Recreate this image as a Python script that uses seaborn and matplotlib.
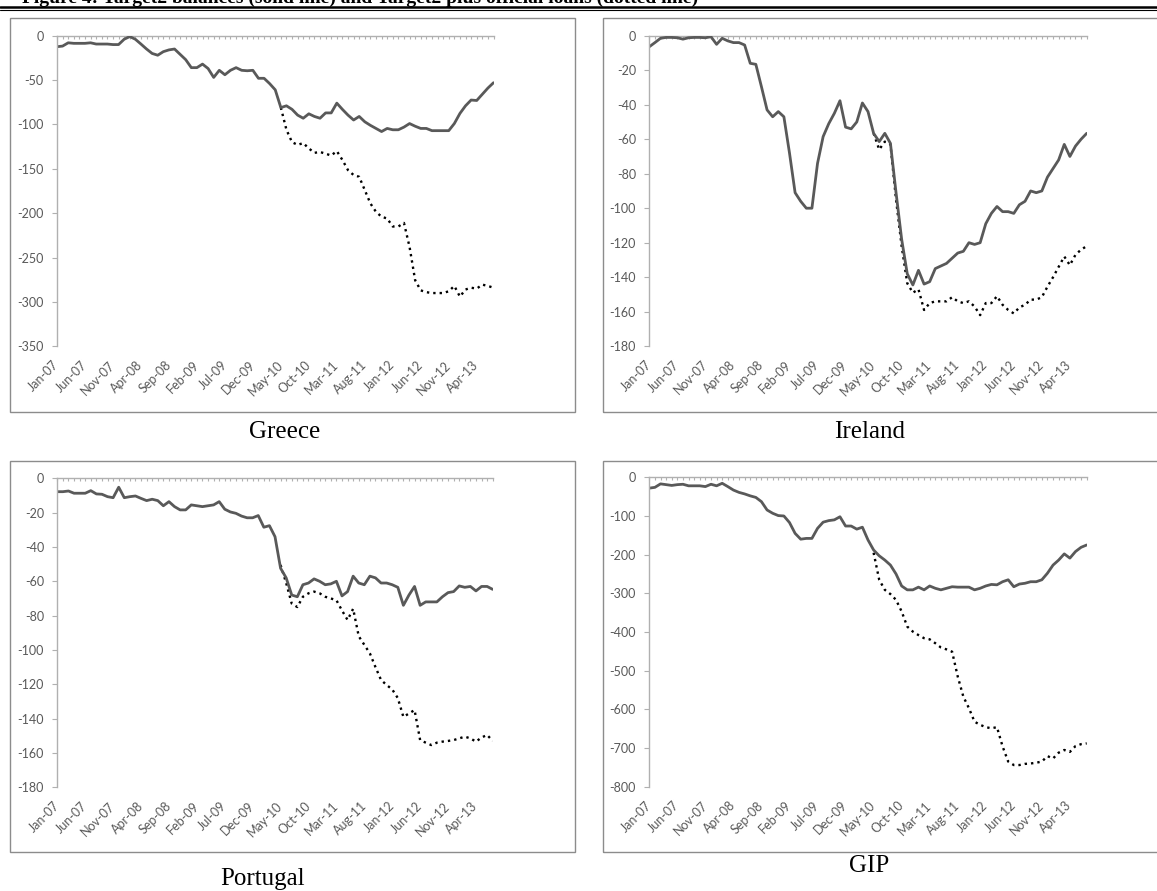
import numpy as np
import pandas as pd
import seaborn as sns
import matplotlib
matplotlib.use("Agg")
from matplotlib import pyplot as plt
from matplotlib.patches import Rectangle
from matplotlib.lines import Line2D

# Monthly data, Jan-07 .. Jul-13 (79 months); dotted series start in May-10
n_months = 79
dotted_start = 40
tick_labels = ["Jan-07", "Jun-07", "Nov-07", "Apr-08", "Sep-08", "Feb-09", "Jul-09", "Dec-09",
               "May-10", "Oct-10", "Mar-11", "Aug-11", "Jan-12", "Jun-12", "Nov-12", "Apr-13"]

greece_solid = [-12.4, -11.7, -8, -8.6, -8.6, -8.6, -8, -9.4, -9.4, -9.4, -10, -10,
                -4, -1, -4, -9.4, -15, -20, -22, -18, -16, -15, -21, -27,
                -36, -36, -32, -37, -47, -39, -44, -39, -36, -39, -39.5, -39,
                -48, -48, -54, -61, -81, -79, -83, -89.5, -93, -88, -91, -93,
                -87, -87, -76, -83, -89.5, -95, -91, -97, -101, -104.5, -108, -104.5,
                -106, -106, -103, -99, -102, -104.5, -104.5, -107, -107, -107, -107, -99,
                -87.6, -79, -72.5, -73, -66, -59, -53]
greece_dotted = [-81, -106, -120, -123, -121, -127, -132, -131, -133, -135, -130, -140,
                 -151.5, -157, -159, -174, -189, -198.5, -204, -206, -215, -215, -211, -238,
                 -275.6, -287, -289, -290, -290, -290, -288, -282, -294, -286, -284, -285,
                 -280.5, -282, -284]

ireland_solid = [-6.4, -4, -1.5, -1, -1, -1.2, -2, -1.2, -1, -1, -1.2, -0.6,
                 -5, -1.5, -3, -4, -4, -5.4, -16, -16.6, -29.6, -43, -47, -44,
                 -47, -68, -91, -96, -100, -100, -74, -58.5, -51, -45, -37.7, -53,
                 -54, -50, -39, -44, -56.6, -61.4, -56.6, -62.4, -91, -118, -138, -144.5,
                 -136, -144, -142.6, -135, -133.5, -132, -129, -126, -125, -120, -121, -120,
                 -109, -103, -99, -102, -102, -103, -98, -96, -90, -91, -90, -82,
                 -77, -72, -63, -70, -64, -60, -56.6]
ireland_dotted = [-56.6, -66, -61.4, -63, -95, -122, -143.5, -149, -147, -159, -155, -154,
                  -154, -154, -151.6, -154, -155, -154, -157, -162, -155, -155, -151, -156,
                  -159, -161, -157.5, -156, -153, -153, -151.6, -145.5, -140, -134, -128, -133,
                  -127, -124, -122]

portugal_solid = [-7.8, -7.8, -7.4, -8.7, -8.7, -8.7, -7.2, -9.1, -9.3, -10.7, -11.3, -5.2,
                  -11.3, -10.7, -10.3, -11.7, -13, -12.2, -13, -16, -13.6, -16.5, -18.4, -18.4,
                  -15.5, -16, -16.5, -16, -15.5, -13.6, -18, -19.6, -20.4, -22, -23, -23,
                  -21.7, -28.5, -27.6, -34, -52.4, -58, -68, -69, -62, -61, -58.6, -60,
                  -62, -61.5, -60, -68.5, -66, -57, -61, -62, -57, -58, -61, -61,
                  -62, -63.5, -74, -68, -63, -74, -72, -72, -72, -69, -66.6, -66,
                  -62.7, -63.5, -63, -65.6, -63, -63, -64.7]
portugal_dotted = [-50.5, -61, -73, -75, -69, -67, -66, -67, -69, -70, -71, -77,
                   -82.5, -76, -92, -97, -102, -110, -117.5, -120.4, -123, -128, -139, -137,
                   -135, -152.5, -154, -155.4, -154, -153.4, -153, -152.5, -151.5, -150.5, -151.5, -153.4,
                   -151, -149.5, -153]

gip_solid = [-28, -26, -17, -19, -21, -19, -18, -22, -22, -22, -24, -18,
             -22, -15.5, -24, -33, -39, -43, -48, -52, -63, -84.5, -93, -99,
             -100, -117, -145, -160, -158, -158, -132, -116, -112, -110, -102, -126,
             -126, -134, -129, -162, -188, -203, -214, -227, -250, -281, -291, -291,
             -284, -291, -281, -287, -291, -287, -283, -284, -284, -284, -291, -287,
             -281, -277, -278, -270, -265, -283, -276, -274, -270, -270, -265, -248,
             -227, -214, -198, -209, -192, -181, -175]
gip_dotted = [-195, -265, -291, -302, -317, -347, -386, -399, -408, -416, -419, -429,
              -440, -445, -451, -515, -567, -597, -632, -640, -646, -649, -646, -696,
              -735, -744, -744, -741, -740, -738, -735, -721, -727, -712, -705, -710,
              -695, -690, -688]

greece_yticks = list(range(0, -351, -50))
ireland_yticks = list(range(0, -181, -20))
portugal_yticks = list(range(0, -181, -20))
gip_yticks = list(range(0, -801, -100))

title = "Figure 4: Target2 balances (solid line) and Target2 plus official loans (dotted line)"

SOLID = "#595959"
AXIS = "#b0b0b0"
TEXT = "#595959"
FRAME = "#8c8c8c"

sns.set_theme(style="white")
plt.rcParams["font.family"] = ["Lato", "DejaVu Sans"]
plt.rcParams["axes.unicode_minus"] = False

W, H = 1157, 891
fig = plt.figure(figsize=(W / 100, H / 100), dpi=100)


def draw_panel(area, box, solid, dotted, yticks, label, label_xy):
    # Outer chart frame
    bl, bt, br, bb = box
    fig.add_artist(Rectangle((bl / W, 1 - bb / H), (br - bl) / W, (bb - bt) / H,
                             transform=fig.transFigure, fill=False, ec=FRAME, lw=1.0))

    l, t, r, b = area
    ax = fig.add_axes([l / W, 1 - b / H, (r - l) / W, (b - t) / H])

    df_solid = pd.DataFrame({"month": np.arange(len(solid)), "value": solid})
    df_dot = pd.DataFrame({"month": np.arange(dotted_start, dotted_start + len(dotted)),
                           "value": dotted})
    sns.lineplot(data=df_dot, x="month", y="value", ax=ax, color="black",
                 linewidth=1.7, linestyle=(0, (1, 1.7)), legend=False)
    sns.lineplot(data=df_solid, x="month", y="value", ax=ax, color=SOLID,
                 linewidth=2.0, legend=False)

    ax.set_xlim(0, n_months - 1)
    ax.set_ylim(yticks[-1], 0)
    ax.set_xlabel("")
    ax.set_ylabel("")
    ax.patch.set_alpha(0)

    for sp in ["right", "bottom"]:
        ax.spines[sp].set_visible(False)
    for sp in ["top", "left"]:
        ax.spines[sp].set_color(AXIS)
        ax.spines[sp].set_linewidth(1.0)
    ax.spines["top"].set_zorder(0)

    ax.set_xticks(range(0, n_months, 5))
    ax.set_xticklabels(tick_labels, rotation=45, ha="right", va="center",
                       rotation_mode="anchor")
    ax.set_xticks(range(n_months), minor=True)
    ax.tick_params(axis="x", which="both", bottom=False, top=True, labelbottom=True,
                   labeltop=False, direction="in", length=2.5, width=0.8, color=AXIS,
                   labelsize=9, labelcolor=TEXT, pad=12)

    ax.set_yticks(yticks)
    ax.set_yticklabels([str(v) for v in yticks])
    ax.tick_params(axis="y", left=True, direction="out", length=3.5, width=0.8,
                   color=AXIS, labelsize=9, labelcolor=TEXT, pad=6)

    fig.text(label_xy[0] / W, 1 - label_xy[1] / H, label, ha="center", va="center",
             fontsize=18, family="Liberation Serif", color="black")
    return ax


draw_panel((57, 35.7, 493.5, 346.3), (10, 18, 575, 411.7), greece_solid, greece_dotted,
           greece_yticks, "Greece", (285, 432))
draw_panel((649.3, 35.7, 1086.7, 346.2), (603, 18, 1165, 411.7), ireland_solid, ireland_dotted,
           ireland_yticks, "Ireland", (870, 432))
draw_panel((57.3, 478.3, 492.7, 787.3), (9.5, 460.5, 575, 851.7), portugal_solid, portugal_dotted,
           portugal_yticks, "Portugal", (263, 879))
draw_panel((649.3, 477.3, 1086.7, 786.7), (603, 460.5, 1165, 852), gip_solid, gip_dotted,
           gip_yticks, "GIP", (869, 866))

# Cut-off caption and double rule at the top of the page
fig.text(22 / W, 1 - 2.5 / H, title, ha="left", va="baseline", fontsize=14,
         weight="bold", family="Liberation Serif", color="black")
fig.add_artist(Line2D([0, 1], [1 - 7 / H] * 2, transform=fig.transFigure,
                      color="black", lw=1.8))
fig.add_artist(Line2D([0, 1], [1 - 9.8 / H] * 2, transform=fig.transFigure,
                      color="black", lw=0.8))

fig.savefig("out.png", dpi=100)
